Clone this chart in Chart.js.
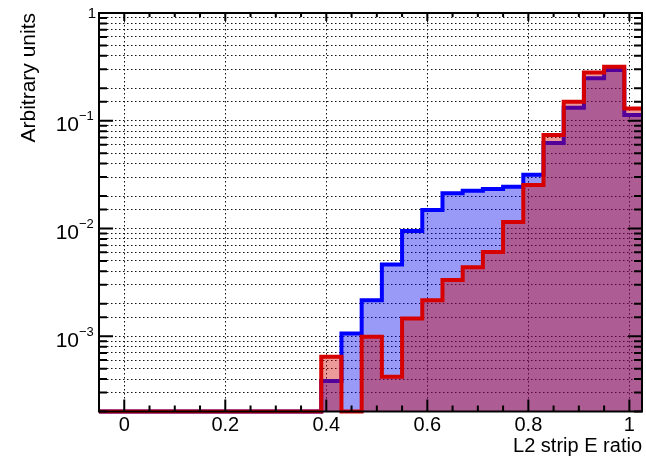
<!DOCTYPE html>
<html lang="en">
<head>
<meta charset="UTF-8">
<title>L2 strip E ratio</title>
<script src="https://cdn.jsdelivr.net/npm/chart.js"></script>
<style>
  html, body { margin: 0; padding: 0; background: #fff; }
</style>
</head>
<body>
<canvas id="myChart" width="646" height="458"></canvas>

<script>
// bin edges, 0.04 wide (last bin is cut by the frame)
const binEdges = [-0.05, -0.01, 0.03, 0.07, 0.11, 0.15, 0.19, 0.23, 0.27, 0.31, 0.35,
  0.39, 0.43, 0.47, 0.51, 0.55, 0.59, 0.63, 0.67, 0.71, 0.75, 0.79, 0.83, 0.87, 0.91, 0.95, 0.99, 1.03];

// normalised contents, one per bin
const blueValues = [0, 0, 0, 0, 0, 0, 0, 0, 0, 0, 0,
  3.83e-4, 1.06e-3, 2.16e-3, 4.64e-3, 9.46e-3, 1.48e-2, 2.12e-2, 2.24e-2, 2.32e-2, 2.44e-2,
  3.16e-2, 6.21e-2, 0.132, 0.248, 0.296, 0.113];
const redValues = [0, 0, 0, 0, 0, 0, 0, 0, 0, 0, 0,
  6.44e-4, 0, 9.87e-4, 4.2e-4, 1.46e-3, 2.16e-3, 3.32e-3, 4.36e-3, 6.04e-3, 1.15e-2,
  2.53e-2, 7.36e-2, 0.150, 0.281, 0.317, 0.130];

const xTicks = [0, 0.2, 0.4, 0.6, 0.8, 1];
const xTickLabels = ['0', '0.2', '0.4', '0.6', '0.8', '1'];
const yTicks = [1e-3, 1e-2, 1e-1, 1];
const yTickLabels = [['10', '\u22123'], ['10', '\u22122'], ['10', '\u22121'], ['1', '']];
const yMin = 2e-4;
const yMax = 1;

const FONT = '"Liberation Sans", Arial, sans-serif';

// histogram -> step points at the lower bin edges (+ closing point)
// empty bins sit on the frame bottom, like ROOT draws them on a log axis
const toSteps = (vals) => binEdges.map((e, i) => {
  const v = vals[Math.min(i, vals.length - 1)];
  return {x: e, y: v > yMin ? v : yMin};
});

// ROOT-like frame: inward ticks on all four sides, y labels with exponents
const frame = {
  id: 'frame',
  afterDraw(chart) {
    const {ctx, chartArea: a, scales: {x, y}} = chart;
    ctx.save();
    ctx.strokeStyle = '#000';
    ctx.lineWidth = 2;
    ctx.beginPath();
    for (let k = -1; k <= 21; k++) {
      const px = x.getPixelForValue(k * 0.05);
      if (px < a.left + 1 || px > a.right - 1) continue;
      const major = k % 4 === 0;
      ctx.moveTo(px, a.bottom); ctx.lineTo(px, a.bottom - (major ? 12 : 6));
      ctx.moveTo(px, a.top); ctx.lineTo(px, a.top + (major ? 8 : 4));
    }
    y.ticks.forEach(t => {
      const py = y.getPixelForValue(t.value);
      const lg = Math.log10(t.value);
      const major = Math.abs(lg - Math.round(lg)) < 1e-6;
      ctx.moveTo(a.left, py); ctx.lineTo(a.left + (major ? 14 : 8), py);
      ctx.moveTo(a.right, py); ctx.lineTo(a.right - (major ? 14 : 8), py);
    });
    ctx.stroke();
    ctx.strokeRect(a.left, a.top, a.right - a.left, a.bottom - a.top);

    ctx.fillStyle = '#000';
    ctx.textBaseline = 'alphabetic';
    yTicks.forEach((v, i) => {
      const py = y.getPixelForValue(v);
      const [base, exp] = yTickLabels[i];
      if (exp) {
        ctx.font = '21px ' + FONT;
        ctx.textAlign = 'right';
        ctx.fillText(base, a.left - 20, py + 10.5);
        ctx.font = '13px ' + FONT;
        ctx.textAlign = 'left';
        ctx.fillText(exp, a.left - 20, py - 0.5);
      } else {
        ctx.font = '15px ' + FONT;
        ctx.textAlign = 'right';
        ctx.fillText(base, a.left - 3, py + 5);
      }
    });
    ctx.restore();
  }
};

const gridDots = {color: '#111', lineWidth: 1, drawTicks: false};

new Chart(document.getElementById('myChart'), {
  type: 'line',
  data: {
    datasets: [{
      label: 'red',
      data: toSteps(redValues),
      stepped: 'before',
      borderColor: 'rgb(215,0,0)',
      backgroundColor: 'rgba(205,0,0,0.4)',
      borderWidth: 4,
      fill: 'start',
      pointRadius: 0,
      borderJoinStyle: 'miter',
      clip: {left: 0, top: 0, right: 0, bottom: 4}
    }, {
      label: 'blue',
      data: toSteps(blueValues),
      stepped: 'before',
      borderColor: 'rgb(0,0,255)',
      backgroundColor: 'rgba(0,0,235,0.4)',
      borderWidth: 4,
      fill: 'start',
      pointRadius: 0,
      borderJoinStyle: 'miter',
      clip: {left: 0, top: 0, right: 0, bottom: 4}
    }]
  },
  options: {
    responsive: false,
    devicePixelRatio: 1,
    animation: false,
    layout: {padding: {top: 13, right: 4, left: 0, bottom: 0}},
    plugins: {legend: {display: false}, tooltip: {enabled: false}},
    scales: {
      x: {
        type: 'linear',
        min: -0.05,
        max: 1.025,
        z: 1,
        afterBuildTicks: (s) => { s.ticks = xTicks.map(v => ({value: v})); },
        afterFit: (s) => { s.height = 46.5; },
        grid: gridDots,
        border: {display: false, dash: [1.5, 2.5]},
        ticks: {
          autoSkip: false,
          maxRotation: 0,
          padding: 2,
          color: '#000',
          font: {family: FONT, size: 20},
          callback: (v, i) => xTickLabels[i]
        },
        title: {
          display: true,
          text: 'L2 strip E ratio',
          align: 'end',
          color: '#000',
          font: {family: FONT, size: 20},
          padding: {top: 0, bottom: 0}
        }
      },
      y: {
        type: 'logarithmic',
        min: yMin,
        max: yMax,
        z: 1,
        afterFit: (s) => { s.width = 99; },
        grid: gridDots,
        border: {display: false, dash: [1.5, 2.5]},
        ticks: {display: false},
        title: {
          display: true,
          text: 'Arbitrary units',
          align: 'end',
          color: '#000',
          font: {family: FONT, size: 21},
          padding: {top: 17, bottom: 0}
        }
      }
    }
  },
  plugins: [frame]
});
</script>
</body>
</html>
